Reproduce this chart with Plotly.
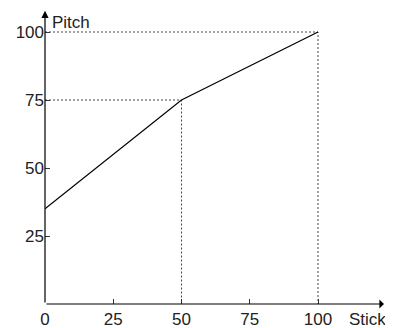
import plotly.graph_objects as go

stick = [0, 50, 100]
pitch = [35, 75, 100]
x_ticks = [0, 25, 50, 75, 100]
y_ticks = [25, 50, 75, 100]
x_label = "Stick"
y_label = "Pitch"

# break points for dashed guides
guide_x = [50, 100]
guide_y = [75, 100]

# page body has an 8px default margin; size the figure to the visible area
OFF = 8
W, H = 393 - OFF, 328 - OFF
L, R, T, B = 45 - OFF, 3, 10 - OFF, 24
pxu_x = 2.73
pxu_y = 2.72
xmax = (W - L - R) / pxu_x
ymax = (H - T - B) / pxu_y

fig = go.Figure()

for gx, gy in zip(guide_x, guide_y):
    fig.add_trace(go.Scatter(x=[0, gx, gx], y=[gy, gy, 0], mode="lines",
                             line=dict(color="#444", width=1, dash="2px,2px"),
                             hoverinfo="skip", showlegend=False))

fig.add_trace(go.Scatter(x=stick, y=pitch, mode="lines",
                         line=dict(color="black", width=1.2), showlegend=False))

font = dict(family="Liberation Sans, Arial, sans-serif", size=17, color="#222")

fig.update_layout(
    width=W, height=H,
    margin=dict(l=L, r=R, t=T, b=B, pad=0, autoexpand=False),
    paper_bgcolor="white", plot_bgcolor="white",
    showlegend=False,
    xaxis=dict(range=[0, xmax], tickvals=x_ticks, ticks="inside", ticklen=5,
               tickcolor="#333", showgrid=False, zeroline=False, showline=False,
               tickfont=font, fixedrange=True, automargin=False,
               ticklabelstandoff=3),
    yaxis=dict(range=[0, ymax], tickvals=y_ticks, ticks="inside", ticklen=5,
               tickcolor="#333", showgrid=False, zeroline=False, showline=False,
               tickfont=font, fixedrange=True, automargin=False),
    annotations=[
        dict(x=xmax - 2.2, y=0, ax=0, ay=0, xref="x", yref="y", axref="x", ayref="y",
             showarrow=True, arrowhead=1, arrowsize=1.4, arrowwidth=1.1,
             arrowcolor="black", text=""),
        dict(x=0, y=ymax - 0.3, ax=0, ay=0, xref="x", yref="y", axref="x", ayref="y",
             showarrow=True, arrowhead=2, arrowsize=1.2, arrowwidth=1.2,
             arrowcolor="black", text=""),
        dict(x=2, y=ymax - 4.5, xref="x", yref="y", text=y_label, showarrow=False,
             xanchor="left", yanchor="middle", font=font),
        dict(x=1, y=0, xref="paper", yref="paper", yshift=-15, xshift=-2,
             text=x_label, showarrow=False,
             xanchor="right", yanchor="middle", font=font),
    ],
)

fig.write_html("out.html")
